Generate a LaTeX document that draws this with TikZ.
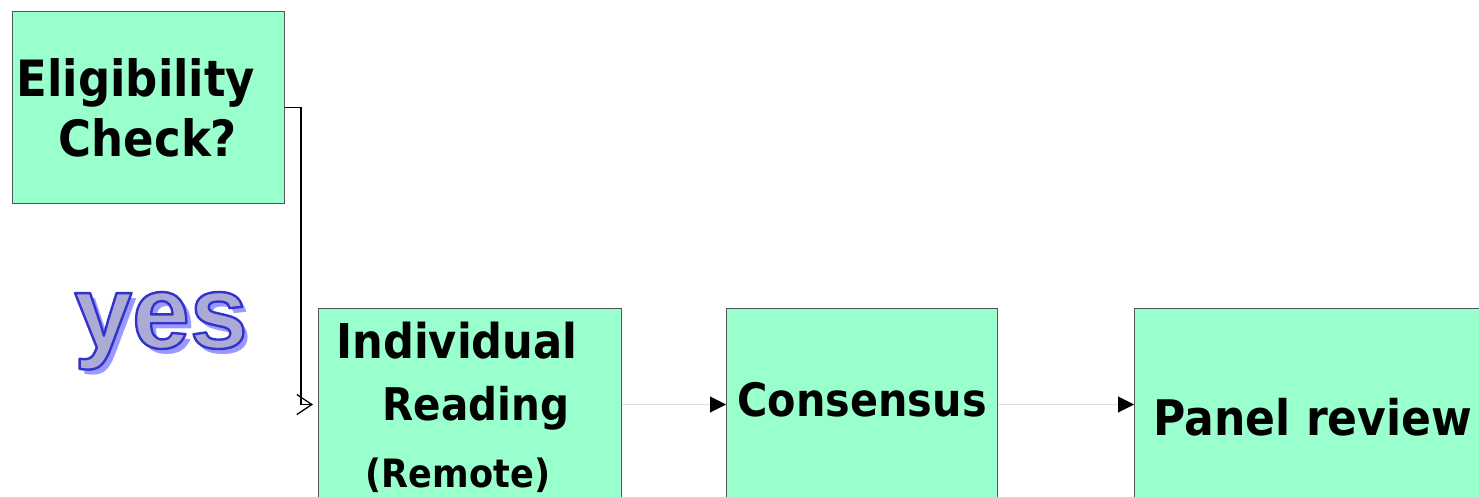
\documentclass[tikz,border=0pt]{standalone}
\usepackage{fontspec}
\setmainfont{DejaVu Sans}
\newfontfamily\boxfont{DejaVu Sans Condensed}[BoldFont={DejaVu Sans Condensed Bold}]
\newfontfamily\yesfont{Liberation Sans}
\usetikzlibrary{arrows.meta}
\definecolor{boxgreen}{HTML}{99FFCC}
\definecolor{boxedge}{HTML}{555555}
\definecolor{lightline}{HTML}{DDDDDD}
\definecolor{yesfill}{HTML}{ABABD6}
\definecolor{yesshadow}{HTML}{9999FF}
\newcommand{\outlinedtext}[1]{\textcolor{yesfill}{\special{pdf:literal direct 0.2 0.2 0.8 RG 2.4 w 1 j 2 Tr}#1\special{pdf:literal direct 0 Tr}}}
\tikzset{
  stepbox/.style={draw=boxedge, line width=1pt, fill=boxgreen, anchor=north west, inner sep=0pt, minimum height=192pt},
  lbl/.style={font=\boxfont\bfseries\fontsize{#1}{60}\selectfont, anchor=base, inner sep=0pt},
  lbl/.default=48,
  yestext/.style={anchor=base, inner sep=0pt, font=\yesfont\bfseries\fontsize{104}{110}\selectfont},
  flow/.style={draw=lightline, line width=1pt, -{Triangle[length=16pt,width=16pt,color=black]}},
  yesarrow/.style={draw=black, line width=1.3pt, -{Straight Barb[length=15pt,width=20pt]}, shorten >=5pt}
}
\begin{document}
\begin{tikzpicture}[x=1pt,y=-1pt]
\useasboundingbox (0,0) rectangle (1479,497);
\clip (0,0) rectangle (1479,497);
\node[stepbox, minimum width=272pt] (elig) at (12,11) {};
\node[stepbox, minimum width=303pt] (ind) at (318,308) {};
\node[stepbox, minimum width=271pt] (cons) at (726,308) {};
\node[stepbox, minimum width=345pt] (panel) at (1134,308) {};
\node[lbl=50] (t1) at (136,97) {Eligibility};
\node[lbl=50] (t2) at (148,157) {Check?};
\node[lbl=48] (t3) at (457,358) {Individual};
\node[lbl=45] (t4) at (476,420) {Reading};
\node[lbl=39] (t5) at (458,487) {(Remote)};
\node[lbl=46] (t6) at (862,416) {Consensus};
\node[lbl=49] (t7) at (1313,435) {Panel review};
\node[yestext, text=yesshadow] (yesshadow) at (166,353) {yes};
\node[yestext] (yes) at (161,348) {\outlinedtext{yes}};
\draw[yesarrow] (elig.east) -- ++(16,0) |- (ind.west);
\draw[flow] (ind.east) -- (cons.west);
\draw[flow] (cons.east) -- (panel.west);
\end{tikzpicture}
\end{document}
